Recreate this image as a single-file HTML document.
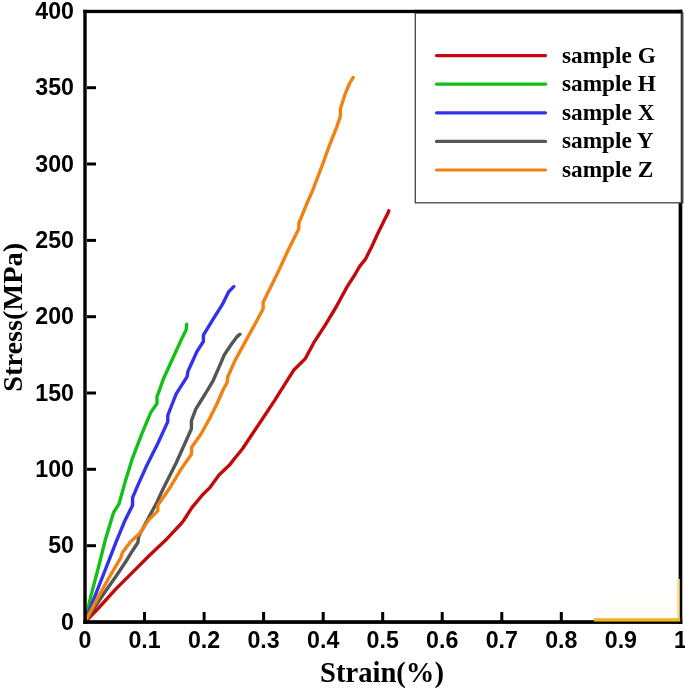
<!DOCTYPE html>
<html><head><meta charset="utf-8"><title>Stress-Strain</title>
<style>
html,body{margin:0;padding:0;background:#fff;}
svg{display:block;filter:blur(0.55px);}
.tk{font-family:"Liberation Sans",Arial,sans-serif;font-weight:bold;font-size:23.2px;fill:#000;}
.lg{font-family:"Liberation Serif","Times New Roman",serif;font-weight:bold;font-size:23.3px;fill:#000;}
.ax{font-family:"Liberation Serif","Times New Roman",serif;font-weight:bold;font-size:28.6px;fill:#000;}
</style></head><body>
<svg width="685" height="691" viewBox="0 0 685 691">
<rect x="0" y="0" width="685" height="691" fill="#fff"/>
<polyline fill="none" stroke="#c00a0c" stroke-width="3.4" stroke-linejoin="round" stroke-linecap="round" points="85.5,621.5 98.1,608.5 116.2,588.6 132.5,572.4 149.6,555.2 166.8,538.9 181.3,523.5 184.0,520.0 191.9,507.7 202.4,495.0 210.3,487.1 219.0,474.9 230.0,464.4 235.2,457.8 242.5,448.7 253.3,432.5 264.2,416.2 275.0,399.9 284.1,385.4 293.6,370.3 305.3,358.6 313.5,343.2 325.2,325.1 336.1,307.0 346.9,287.1 355.3,274.0 359.6,266.4 365.3,259.4 371.7,246.7 378.0,233.0 384.3,220.3 388.0,213.0 388.8,210.8"/>
<polyline fill="none" stroke="#12c018" stroke-width="3.4" stroke-linejoin="round" stroke-linecap="round" points="85.5,621.5 86.3,615.8 90.9,595.9 98.1,568.7 105.3,539.8 113.5,512.7 119.0,503.9 125.3,481.3 132.6,457.8 141.6,434.3 150.7,412.6 157.0,403.5 157.0,396.3 158.1,393.9 163.6,378.5 173.5,356.8 182.6,336.9 186.2,329.7 186.7,324.3"/>
<polyline fill="none" stroke="#3232ea" stroke-width="3.4" stroke-linejoin="round" stroke-linecap="round" points="85.5,621.5 87.2,615.8 97.2,590.4 107.1,565.1 116.2,541.6 125.2,519.9 132.5,505.4 132.6,497.6 138.0,484.9 147.0,465.0 157.9,443.3 167.8,421.6 167.8,415.3 172.4,403.5 176.2,393.9 187.1,376.7 188.0,371.3 197.0,351.4 203.4,341.5 203.4,335.1 213.3,318.8 222.4,304.4 228.7,291.7 233.8,286.6"/>
<polyline fill="none" stroke="#555555" stroke-width="3.4" stroke-linejoin="round" stroke-linecap="round" points="85.5,621.5 87.2,618.5 103.5,594.1 116.2,576.0 127.0,559.7 132.5,550.7 137.9,542.5 138.8,536.2 146.9,520.8 153.3,509.0 156.1,503.9 163.3,488.5 176.0,463.2 185.0,443.3 191.4,428.8 191.4,420.7 195.9,408.9 204.9,394.5 213.3,380.3 219.6,365.9 224.2,355.0 231.4,344.2 236.8,336.9 239.9,334.2"/>
<polyline fill="none" stroke="#f08214" stroke-width="3.4" stroke-linejoin="round" stroke-linecap="round" points="85.5,621.5 87.2,617.6 99.9,594.1 108.9,577.8 120.7,557.9 122.5,552.5 130.7,541.6 139.7,533.5 148.7,519.9 157.8,510.9 157.8,505.4 158.8,503.9 170.6,486.7 181.4,468.6 191.4,454.2 191.8,446.9 200.9,434.3 209.9,418.0 217.1,403.5 223.5,389.0 227.1,382.7 227.8,376.7 235.0,360.5 245.9,340.6 254.9,324.3 263.1,308.9 263.1,302.6 267.2,294.0 277.1,274.1 288.0,250.5 298.8,228.8 298.8,223.4 306.1,205.3 313.3,189.0 315.1,183.9 322.4,164.9 329.6,145.0 336.8,126.9 340.4,116.1 340.4,108.8 345.0,94.4 349.5,83.5 353.1,77.5"/>
<rect x="83.3" y="9.8" width="3.4" height="614.1" fill="#000"/>
<rect x="83.3" y="9.8" width="599" height="3.3" fill="#000"/>
<rect x="678.6" y="9.8" width="3.7" height="614.1" fill="#000"/>
<rect x="83.3" y="620.2" width="599" height="3.7" fill="#000"/>
<line x1="144.5" y1="612" x2="144.5" y2="621" stroke="#000" stroke-width="3"/>
<line x1="204.1" y1="612" x2="204.1" y2="621" stroke="#000" stroke-width="3"/>
<line x1="263.6" y1="612" x2="263.6" y2="621" stroke="#000" stroke-width="3"/>
<line x1="323.2" y1="612" x2="323.2" y2="621" stroke="#000" stroke-width="3"/>
<line x1="382.7" y1="612" x2="382.7" y2="621" stroke="#000" stroke-width="3"/>
<line x1="442.2" y1="612" x2="442.2" y2="621" stroke="#000" stroke-width="3"/>
<line x1="501.8" y1="612" x2="501.8" y2="621" stroke="#000" stroke-width="3"/>
<line x1="561.3" y1="612" x2="561.3" y2="621" stroke="#000" stroke-width="3"/>
<line x1="620.9" y1="612" x2="620.9" y2="621" stroke="#000" stroke-width="3"/>
<line x1="87" y1="545.7" x2="96" y2="545.7" stroke="#000" stroke-width="3"/>
<line x1="87" y1="469.3" x2="96" y2="469.3" stroke="#000" stroke-width="3"/>
<line x1="87" y1="393.0" x2="96" y2="393.0" stroke="#000" stroke-width="3"/>
<line x1="87" y1="316.7" x2="96" y2="316.7" stroke="#000" stroke-width="3"/>
<line x1="87" y1="240.4" x2="96" y2="240.4" stroke="#000" stroke-width="3"/>
<line x1="87" y1="164.0" x2="96" y2="164.0" stroke="#000" stroke-width="3"/>
<line x1="87" y1="87.7" x2="96" y2="87.7" stroke="#000" stroke-width="3"/>
<rect x="594" y="601.5" width="84" height="18" fill="#fffefb"/>
<rect x="677.2" y="579" width="2.6" height="42" fill="#f9dc7c"/>
<rect x="594" y="618.2" width="86.2" height="3.4" fill="#f0b41e"/>
<rect x="415.3" y="13" width="267.5" height="189.8" fill="#fff" stroke="#444" stroke-width="1.3"/>
<rect x="680.7" y="12" width="1.8" height="191.4" fill="#333"/>
<rect x="414" y="9.9" width="268" height="3.2" fill="#000"/>
<line x1="436.5" y1="55.6" x2="545.5" y2="55.6" stroke="#c00a0c" stroke-width="3.2" stroke-linecap="round"/>
<text x="562" y="62.8" class="lg">sample G</text>
<line x1="436.5" y1="84.2" x2="545.5" y2="84.2" stroke="#12c018" stroke-width="3.2" stroke-linecap="round"/>
<text x="562" y="91.3" class="lg">sample H</text>
<line x1="436.5" y1="112.8" x2="545.5" y2="112.8" stroke="#3232ea" stroke-width="3.2" stroke-linecap="round"/>
<text x="562" y="119.8" class="lg">sample X</text>
<line x1="436.5" y1="141.4" x2="545.5" y2="141.4" stroke="#555555" stroke-width="3.2" stroke-linecap="round"/>
<text x="562" y="148.3" class="lg">sample Y</text>
<line x1="436.5" y1="170.0" x2="545.5" y2="170.0" stroke="#f08214" stroke-width="3.2" stroke-linecap="round"/>
<text x="562" y="176.8" class="lg">sample Z</text>
<text x="74" y="630.0" class="tk" text-anchor="end">0</text>
<text x="74" y="553.0" class="tk" text-anchor="end">50</text>
<text x="74" y="477.0" class="tk" text-anchor="end">100</text>
<text x="74" y="401.0" class="tk" text-anchor="end">150</text>
<text x="74" y="324.0" class="tk" text-anchor="end">200</text>
<text x="74" y="248.0" class="tk" text-anchor="end">250</text>
<text x="74" y="172.0" class="tk" text-anchor="end">300</text>
<text x="74" y="95.0" class="tk" text-anchor="end">350</text>
<text x="74" y="19.0" class="tk" text-anchor="end">400</text>
<text x="85.0" y="648" class="tk" text-anchor="middle">0</text>
<text x="144.5" y="648" class="tk" text-anchor="middle">0.1</text>
<text x="204.1" y="648" class="tk" text-anchor="middle">0.2</text>
<text x="263.6" y="648" class="tk" text-anchor="middle">0.3</text>
<text x="323.2" y="648" class="tk" text-anchor="middle">0.4</text>
<text x="382.7" y="648" class="tk" text-anchor="middle">0.5</text>
<text x="442.2" y="648" class="tk" text-anchor="middle">0.6</text>
<text x="501.8" y="648" class="tk" text-anchor="middle">0.7</text>
<text x="561.3" y="648" class="tk" text-anchor="middle">0.8</text>
<text x="620.9" y="648" class="tk" text-anchor="middle">0.9</text>
<text x="680.4" y="648" class="tk" text-anchor="middle">1</text>
<text x="382" y="682" class="ax" text-anchor="middle">Strain(%)</text>
<text transform="translate(21.6,317.3) rotate(-90)" class="ax" style="font-size:28.3px" text-anchor="middle">Stress(MPa)</text>
</svg>
</body></html>
